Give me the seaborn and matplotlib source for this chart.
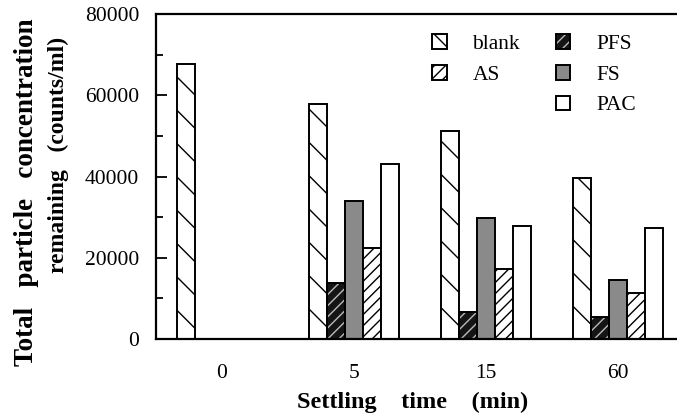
import numpy as np
import pandas as pd
import matplotlib
matplotlib.use("Agg")
import matplotlib.pyplot as plt
import seaborn as sns
from matplotlib.patches import Patch
from matplotlib.ticker import MultipleLocator

# data
times = ["0", "5", "15", "60"]
treatments = ["blank", "PFS", "FS", "AS", "PAC"]
blank = [67800, 57800, 51200, 39600]
pfs = [np.nan, 13800, 6600, 5400]
fs = [np.nan, 34000, 29800, 14500]
as_ = [np.nan, 22400, 17200, 11300]
pac = [np.nan, 43100, 27800, 27300]

rows = []
for name, vals in zip(treatments, [blank, pfs, fs, as_, pac]):
    for t, v in zip(times, vals):
        if not np.isnan(v):
            rows.append({"time": t, "treatment": name, "value": v})
df = pd.DataFrame(rows)

# fill / hatch per treatment
styles = {
    "blank": dict(facecolor="white", hatch="\\", hcol="black"),
    "PFS": dict(facecolor="#151515", hatch="///", hcol="#bbbbbb"),
    "FS": dict(facecolor="#8a8a8a", hatch="", hcol="black"),
    "AS": dict(facecolor="white", hatch="///", hcol="black"),
    "PAC": dict(facecolor="white", hatch="", hcol="black"),
}

sns.set_style("ticks", {"axes.edgecolor": "black", "text.color": "black",
                        "xtick.color": "black", "ytick.color": "black"})
plt.rcParams["font.family"] = ["Liberation Serif", "DejaVu Serif"]
plt.rcParams["hatch.linewidth"] = 1.0
plt.rcParams["ytick.direction"] = "in"

fig = plt.figure(figsize=(6.77, 4.16), dpi=100)
ax = fig.add_axes([0.2304, 0.185, 0.780, 0.781])

sns.barplot(data=df, x="time", y="value", hue="treatment", order=times,
            hue_order=treatments, width=0.68, ax=ax, legend=False,
            edgecolor="black", linewidth=1.4)

for name, cont in zip(treatments, ax.containers):
    st = styles[name]
    for p in cont:
        p.set_facecolor(st["facecolor"])
        p.set_edgecolor("black")
        p.set_hatch(st["hatch"])
        p._hatch_color = matplotlib.colors.to_rgba(st["hcol"])

ax.set_xlim(-0.5, 3.5)
ax.set_ylim(0, 80000)
ax.yaxis.set_major_locator(MultipleLocator(20000))
ax.yaxis.set_minor_locator(MultipleLocator(10000))
ax.tick_params(axis="y", which="major", direction="in", length=8, width=1.3, labelsize=15.5, pad=12)
ax.tick_params(axis="y", which="minor", direction="in", length=5, width=1.3)
ax.tick_params(axis="x", length=0, labelsize=15.5, pad=18)
ax.set_xlabel("")
ax.set_ylabel("")
for s in ["left", "top", "bottom"]:
    ax.spines[s].set_linewidth(1.6)
ax.spines["right"].set_visible(False)

# legend: blank, AS | PFS, FS, PAC
def handle(name):
    st = styles[name]
    h = Patch(facecolor=st["facecolor"], edgecolor="black", hatch=st["hatch"], linewidth=1.4)
    h._hatch_color = matplotlib.colors.to_rgba(st["hcol"])
    return h

empty = Patch(facecolor="none", edgecolor="none")
hs = [handle("blank"), handle("AS"), empty, handle("PFS"), handle("FS"), handle("PAC")]
ls = ["blank", "AS", "", "PFS", "FS", "PAC"]
fig.legend(hs, ls, ncol=2, loc="upper left", bbox_to_anchor=(0.638, 0.918),
           bbox_transform=fig.transFigure, frameon=False, fontsize=15.5,
           handlelength=0.68, handleheight=0.68, handletextpad=1.2,
           columnspacing=1.65, labelspacing=0.5, borderpad=0, borderaxespad=0)

fig.text(413 / 677, 1 - 402 / 416, "Settling    time    (min)", ha="center", va="center",
         fontsize=17.5, fontweight="bold")
fig.text(27 / 677, 1 - 192 / 416, "Total   particle   concentration",
         rotation=90, ha="center", va="center", fontsize=19.5, fontweight="bold")
fig.text(58 / 677, 1 - 155 / 416, "remaining   (counts/ml)",
         rotation=90, ha="center", va="center", fontsize=17, fontweight="bold")

fig.savefig("out.png", dpi=100)
